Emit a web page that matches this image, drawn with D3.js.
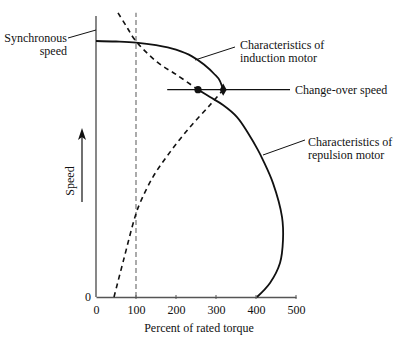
<!DOCTYPE html>
<html><head><meta charset="utf-8">
<script src="https://cdn.jsdelivr.net/npm/d3@7"></script>
<style>body{margin:0;background:#fff}svg{display:block}text{font-family:"Liberation Serif","DejaVu Serif",serif;fill:#111}</style>
</head><body><svg id="c" width="400" height="340"></svg>
<script>
// torque (% of rated), speed (% of synchronous)
const xTicks = [0, 100, 200, 300, 400, 500];
const inductionSolid = [[0,100],[50,99.8],[100,99.4],[150,98.4],[200,96.6],[240,94],[270,90.8],[295,87.2],[310,84.3],[318,81]];
const inductionDashed = [[45,0],[69,14.5],[97.5,31.3],[110,36.7],[142.5,46.9],[185,56.6],[235,66.4],[285,75],[318,81]];
const repulsionSolid = [[255,81],[285,78.1],[317.5,75],[352.5,70.3],[380,64.1],[405,57.4],[417.5,53.5],[442.5,44.5],[465,31.3],[467.5,22.3],[460,13.3],[435,5.5],[402.5,0]];
const repulsionDashed = [[55,111],[75,106],[97.5,100.4],[152.5,91.8],[202.5,86.7],[255,81]];
const changeOver = {speed: 81, repulsionTorque: 255, inductionTorque: 318, lineFrom: 178, lineTo: 485};
const ratedTorque = 100;

const svg = d3.select("#c");
const x = d3.scaleLinear().domain([0, 500]).range([96, 296]);
const y = d3.scaleLinear().domain([0, 100]).range([297, 41]);

// axes
svg.append("line").attr("x1", x(0)).attr("x2", x(0)).attr("y1", y(0)).attr("y2", y(109.8))
  .attr("stroke", "#555").attr("stroke-width", 1.4);
const xAxis = d3.axisBottom(x).tickValues(xTicks).tickSize(0).tickPadding(8);
const gx = svg.append("g").attr("transform", `translate(0,${y(0)})`).call(xAxis);
gx.select(".domain").attr("stroke", "#555").attr("stroke-width", 1.4);
gx.selectAll("text").style("font-family", '"Liberation Serif",serif').style("font-size", "12px").attr("fill", "#111");
svg.append("g").selectAll("line").data(xTicks.slice(1)).join("line")
  .attr("x1", d => x(d)).attr("x2", d => x(d)).attr("y1", y(0) - 2).attr("y2", y(0) + 2)
  .attr("stroke", "#555").attr("stroke-width", 1);
svg.append("text").attr("x", x(0) - 5).attr("y", y(0) + 4).attr("text-anchor", "end").attr("font-size", 12).text("0");
svg.append("text").attr("x", 199).attr("y", 332).attr("text-anchor", "middle").attr("font-size", 12).text("Percent of rated torque");

// Speed label + arrow
svg.append("text").attr("transform", "translate(74,181) rotate(-90)").attr("text-anchor", "middle").attr("font-size", 12).text("Speed");
svg.append("line").attr("x1", 82).attr("x2", 82).attr("y1", 202).attr("y2", 134).attr("stroke", "#111").attr("stroke-width", 1.2);
svg.append("path").attr("d", "M82,128 L78,140 L82,137 L86,140 Z").attr("fill", "#111");

// rated torque dashed line
svg.append("line").attr("x1", x(ratedTorque)).attr("x2", x(ratedTorque)).attr("y1", y(0)).attr("y2", y(111))
  .attr("stroke", "#666").attr("stroke-width", 1.1).attr("stroke-dasharray", "5,3");

const line = d3.line().x(d => x(d[0])).y(d => y(d[1])).curve(d3.curveCatmullRom.alpha(0.5));
const lineMono = d3.line().x(d => x(d[0])).y(d => y(d[1])).curve(d3.curveMonotoneX);
svg.append("path").attr("d", lineMono(inductionSolid)).attr("fill", "none").attr("stroke", "#111").attr("stroke-width", 1.8);
svg.append("path").attr("d", line(repulsionSolid)).attr("fill", "none").attr("stroke", "#111").attr("stroke-width", 1.8);
svg.append("path").attr("d", line(inductionDashed)).attr("fill", "none").attr("stroke", "#111").attr("stroke-width", 1.6).attr("stroke-dasharray", "5,4");
svg.append("path").attr("d", line(repulsionDashed)).attr("fill", "none").attr("stroke", "#111").attr("stroke-width", 1.6).attr("stroke-dasharray", "5,4");

// change-over line and markers
svg.append("line").attr("x1", x(changeOver.lineFrom)).attr("x2", x(changeOver.lineTo))
  .attr("y1", y(changeOver.speed)).attr("y2", y(changeOver.speed)).attr("stroke", "#111").attr("stroke-width", 1.1);
svg.append("circle").attr("cx", x(changeOver.repulsionTorque)).attr("cy", y(changeOver.speed)).attr("r", 3.6).attr("fill", "#111");
svg.append("path").attr("d", d3.symbol(d3.symbolDiamond, 42)()).attr("transform", `translate(${x(changeOver.inductionTorque)},${y(changeOver.speed)})`).attr("fill", "#111");

// annotations
function leader(x1, y1, x2, y2) {
  svg.append("line").attr("x1", x1).attr("y1", y1).attr("x2", x2).attr("y2", y2).attr("stroke", "#111").attr("stroke-width", 1);
}
const fs = 12;
svg.append("text").attr("x", 67).attr("y", 42).attr("text-anchor", "end").attr("font-size", fs).text("Synchronous");
svg.append("text").attr("x", 67).attr("y", 55).attr("text-anchor", "end").attr("font-size", fs).text("speed");
leader(68, 38, x(0), 30);

svg.append("text").attr("x", 240).attr("y", 49).attr("font-size", fs).text("Characteristics of");
svg.append("text").attr("x", 240).attr("y", 62).attr("font-size", fs).text("induction motor");
leader(235, 47, 195, 60);

svg.append("text").attr("x", 295).attr("y", 94).attr("font-size", fs).text("Change-over speed");

svg.append("text").attr("x", 308).attr("y", 146).attr("font-size", fs).text("Characteristics of");
svg.append("text").attr("x", 308).attr("y", 159).attr("font-size", fs).text("repulsion motor");
leader(305, 140, 263, 155);
</script></body></html>
